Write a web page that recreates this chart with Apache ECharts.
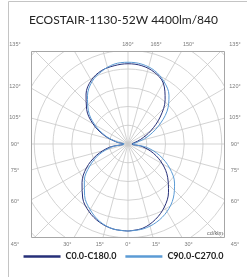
<!DOCTYPE html>
<html><head><meta charset="utf-8">
<script src="https://cdn.jsdelivr.net/npm/echarts@6/dist/echarts.min.js"></script>
<style>html,body{margin:0;padding:0;background:#fff}#c{width:247px;height:277px}</style>
</head><body><div id="c"></div>
<script>
const chartTitle = 'ECOSTAIR-1130-52W 4400lm/840';
const seriesNames = ['C0.0-C180.0', 'C90.0-C270.0'];
const gammaAngles = [0,10,20,30,40,50,60,70,80,90,100,110,120,130,140,150,160,170,180];
// intensities in cd/klm
const c0   = [116,114,107,97,84,69,53,36,19,5,8,18,35,56,77,94,102,106,107];
const c180 = [116,115,111,104,94,80,64,45,25,6,16,34,54,72,87,98,104,106,107];
const c90  = [116,115,111,104,94,81,64,45,25,6,12,27,46,68,85,96,104,108,109];
const c270 = [116,115,110,101,90,76,59,41,21,5,15,32,51,69,84,96,103,108,109];
const lowerRadiusTicks = [25,50,75,100,125];
const upperRadiusTicks = [25,50,75,100];
const sideTicks = [135,120,105,90,75,60,45];
const bottomLeftTicks = [30,15];
const bottomCenterTicks = [0];
const bottomRightTicks = [15,30];
const topCenterTicks = [180];
const topRightTicks = [165,150];
const unitLabel = 'cd/klm';

const CX = 128, CY = 144, RPX = 135, RMAX = 180;
const FRAME = {x: 31, y: 51, w: 193, h: 186};
const gridColor = '#c8c8c8', textGray = '#7a7a7a';
const darkColor = '#262f78', blueColor = '#5b9bd5';

function buildLoop(right, left) {
  const pts = gammaAngles.map((g, i) => [right[i], g]);
  for (let i = gammaAngles.length - 2; i >= 0; i--) pts.push([left[i], 360 - gammaAngles[i]]);
  return pts;
}

const rad = d => d * Math.PI / 180;
const labelTexts = [];
function addText(str, x, y) {
  labelTexts.push({type:'text', z: 60, style:{text:str, x:x, y:y, align:'center', verticalAlign:'middle',
    fill:textGray, fontSize:5.5, fontFamily:'Liberation Sans'}});
}
const clamp = (v, a, b) => Math.max(a, Math.min(b, v));
sideTicks.forEach(g => {
  const y = clamp(CY + 100 * Math.tan(rad(90 - g)), 44, 244);
  addText(g + '°', 15, y);
  addText(g + '°', 235, y);
});
bottomLeftTicks.forEach(g => addText(g + '°', CX - 105 * Math.tan(rad(g)), 244));
bottomCenterTicks.forEach(g => addText(g + '°', CX, 244));
bottomRightTicks.forEach(g => addText(g + '°', CX + 105 * Math.tan(rad(g)), 244));
topCenterTicks.forEach(g => addText(g + '°', CX, 44));
topRightTicks.forEach(g => addText(g + '°', CX + 105 * Math.tan(rad(180 - g)), 44));

const W = 247, H = 277;
const masks = [
  {x:0, y:0, w:FRAME.x, h:H},
  {x:FRAME.x + FRAME.w, y:0, w:W - FRAME.x - FRAME.w, h:H},
  {x:0, y:0, w:W, h:FRAME.y},
  {x:0, y:FRAME.y + FRAME.h, w:W, h:H - FRAME.y - FRAME.h}
].map(m => ({type:'rect', z:50, silent:true, shape:{x:m.x, y:m.y, width:m.w, height:m.h}, style:{fill:'#fff'}}));

const chart = echarts.init(document.getElementById('c'), null, {renderer:'canvas'});
chart.setOption({
  animation: false,
  backgroundColor: '#fff',
  title: {text: chartTitle, left: 'center', top: 9, z: 60,
    textStyle: {fontSize: 12, fontWeight: 'normal', color: '#222', fontFamily: 'Lato'}},
  legend: {bottom: 11, left: 'center', z: 60, icon: 'rect', itemWidth: 37, itemHeight: 2.5, itemGap: 9,
    textStyle: {fontSize: 9, fontWeight: 'bold', color: '#222', fontFamily: 'Lato'},
    data: seriesNames},
  polar: {center: [CX, CY], radius: RPX},
  angleAxis: {type: 'value', min: 0, max: 360, interval: 15, startAngle: 270, clockwise: false,
    axisLine: {show: false}, axisTick: {show: false}, axisLabel: {show: false},
    splitLine: {show: true, lineStyle: {color: gridColor, width: 0.8}}},
  radiusAxis: {type: 'value', min: 0, max: RMAX, interval: 25,
    axisLine: {show: false}, axisTick: {show: false}, axisLabel: {show: false},
    splitLine: {show: true, lineStyle: {color: gridColor, width: 0.8}}},
  graphic: {elements: masks.concat(labelTexts, [
    {type:'rect', z:55, silent:true, shape:{x:FRAME.x + 0.5, y:FRAME.y + 0.5, width:FRAME.w, height:FRAME.h},
      style:{fill:'none', stroke:'#a6a6a6', lineWidth:1}},
    {type:'line', z:55, shape:{x1:8.5, y1:1.5, x2:8.5, y2:H}, style:{stroke:'#c4c4c4', lineWidth:1}},
    {type:'line', z:55, shape:{x1:8.5, y1:1.5, x2:W, y2:1.5}, style:{stroke:'#c4c4c4', lineWidth:1}},
    {type:'text', z:60, style:{text:unitLabel, x:FRAME.x + FRAME.w - 1, y:FRAME.y + FRAME.h - 4, align:'right',
      verticalAlign:'middle', fill:'#666', fontSize:5.5, fontFamily:'Liberation Sans'}}
  ])},
  series: [
    {name: seriesNames[0], type: 'line', coordinateSystem: 'polar', smooth: 0.35, showSymbol: false,
      data: buildLoop(c0, c180), lineStyle: {color: darkColor, width: 1}, itemStyle: {color: darkColor}, z: 3},
    {name: seriesNames[1], type: 'line', coordinateSystem: 'polar', smooth: 0.35, showSymbol: false,
      data: buildLoop(c90, c270), lineStyle: {color: blueColor, width: 1}, itemStyle: {color: blueColor}, z: 3},
    {type: 'scatter', coordinateSystem: 'polar', symbolSize: 1, itemStyle: {opacity: 0}, silent: true, z: 4,
      data: lowerRadiusTicks.map(r => [r, 0]).concat(upperRadiusTicks.map(r => [r, 180])),
      label: {show: true, position: [3, -6], formatter: p => String(p.value[0]), fontSize: 5.5,
        color: '#666', fontFamily: 'Liberation Sans'}}
  ]
});
</script></body></html>
